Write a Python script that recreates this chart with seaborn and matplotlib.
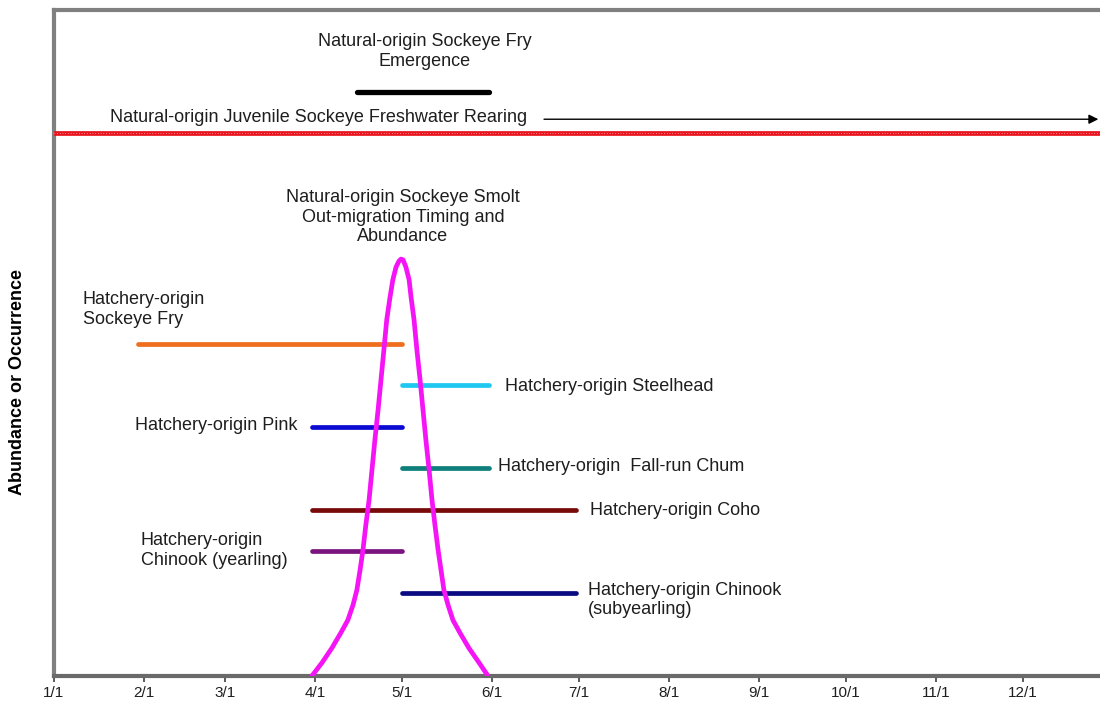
import matplotlib
matplotlib.use("Agg")
import matplotlib.pyplot as plt
import seaborn as sns
import pandas as pd

# month ticks (day of year)
month_days = [0, 31, 59, 90, 120, 151, 181, 212, 243, 273, 304, 334]
month_labels = ["1/1", "2/1", "3/1", "4/1", "5/1", "6/1", "7/1", "8/1", "9/1", "10/1", "11/1", "12/1"]

# hatchery releases: start / end day of year, relative level on the chart
bar_names = ["Hatchery-origin\nSockeye Fry", "Hatchery-origin Steelhead", "Hatchery-origin Pink",
             "Hatchery-origin  Fall-run Chum", "Hatchery-origin Coho",
             "Hatchery-origin\nChinook (yearling)", "Hatchery-origin Chinook\n(subyearling)"]
bar_start = [29, 120, 89, 120, 89, 89, 120]
bar_end = [120, 150, 120, 150, 180, 120, 180]
bar_level = [49.8, 43.7, 37.4, 31.2, 24.9, 18.8, 12.5]
bar_colors = ["#EE6E1E", "#1EC8F0", "#0A0AD2", "#0E7F7A", "#780A0A", "#7A157F", "#0A0A82"]

# natural-origin fry emergence and freshwater rearing
emerg_start, emerg_end, emerg_level = 104.5, 150, 87.7
rear_start, rear_end, rear_level = 169, 360, 83.6
divider_level = 81.5

# natural-origin smolt out-migration curve
smolt_day = [89.0, 92.5, 95.9, 99.0, 101.4, 103.2, 104.5, 105.6, 106.6, 107.6, 108.7, 109.7,
             110.7, 111.8, 112.8, 113.8, 114.8, 115.9, 116.9, 118.0, 119.0, 119.7, 120.4,
             121.4, 122.5, 123.2, 124.2, 125.2, 126.3, 127.3, 128.3, 129.4, 130.4, 131.4,
             132.5, 133.5, 134.5, 135.9, 137.6, 140.0, 143.1, 146.6, 149.7]
smolt_abund = [0.0, 2.0, 4.2, 6.5, 8.4, 10.7, 12.9, 15.9, 18.9, 22.7, 26.4, 30.9,
               35.4, 39.9, 44.4, 48.9, 53.5, 56.8, 59.5, 61.4, 62.3, 62.6, 62.5,
               61.4, 59.5, 56.8, 53.5, 48.9, 44.4, 39.9, 35.4, 30.9, 26.4, 22.7,
               18.9, 15.9, 12.9, 10.7, 8.4, 6.5, 4.2, 2.0, 0.0]

sns.set_theme(style="white")
plt.rcParams['font.family'] = ['Liberation Sans', 'DejaVu Sans']
txt = "#1e1e1e"

fig = plt.figure(figsize=(11, 7.07), dpi=100)
ax = fig.add_axes([53.6 / 1100, 31 / 707, 365 * 2.902 / 1100, 666 / 707])

# smolt curve
smolt = pd.DataFrame({"day": smolt_day, "abund": smolt_abund})
sns.lineplot(data=smolt, x="day", y="abund", color="#F514F5", lw=3.4, ax=ax, zorder=3)
ax.set_xlabel("")
ax.set_ylabel("")
ax.set_xlim(0, 365)
ax.set_ylim(0, 100)

# hatchery bars
for s, e, lv, c in zip(bar_start, bar_end, bar_level, bar_colors):
    ax.plot([s, e], [lv, lv], color=c, lw=3.4, solid_capstyle="round", zorder=2)

lab_pos = [(10.1, 55.0, "left"), (155.5, 43.4, "left"), (84.0, 37.6, "right"),
           (153.0, 31.5, "left"), (185.0, 24.9, "left"), (30.1, 18.8, "left"),
           (184.0, 11.4, "left")]
for name, (x, y, ha) in zip(bar_names, lab_pos):
    ax.text(x, y, name, ha=ha, va="center", fontsize=13, color=txt, linespacing=1.2)

ax.text(120.4, 68.9, "Natural-origin Sockeye Smolt\nOut-migration Timing and\nAbundance",
        ha="center", va="center", fontsize=13, color=txt, linespacing=1.2)

# emergence bar
ax.plot([emerg_start, emerg_end], [emerg_level, emerg_level], color="black", lw=3.8,
        solid_capstyle="round")
ax.text(128, 93.8, "Natural-origin Sockeye Fry\nEmergence", ha="center", va="center",
        fontsize=13, color=txt, linespacing=1.2)

# rearing arrow
ax.text(19.4, rear_level + 0.3, "Natural-origin Juvenile Sockeye Freshwater Rearing",
        ha="left", va="center", fontsize=13, color=txt)
ax.annotate("", xy=(rear_end, rear_level), xytext=(rear_start, rear_level),
            arrowprops=dict(arrowstyle="-|>", color="black", lw=1.0, mutation_scale=14,
                            shrinkA=0, shrinkB=0))

# red dotted divider
ax.axhline(divider_level, color="#E8141E", lw=3.4, zorder=4)
ax.axhline(divider_level, color="#ffd0d0", lw=0.7, ls=(0, (0.6, 2.2)), zorder=5)

ax.set_xticks(month_days)
ax.set_xticklabels(month_labels, fontsize=11, color=txt)
ax.set_yticks([])
ax.tick_params(axis="x", direction="out", length=4, width=1.2, color="#404040", pad=3,
               bottom=True)
for side in ["left", "top", "bottom", "right"]:
    ax.spines[side].set_color("#808080")
    ax.spines[side].set_linewidth(3.0)
ax.spines["bottom"].set_color("#6a6a6a")

fig.text(18 / 1100, 1 - 382 / 707, "Abundance or Occurrence", rotation=90,
         ha="center", va="center", fontsize=13, fontweight="bold", color="black")

fig.savefig("out.png", dpi=100)
